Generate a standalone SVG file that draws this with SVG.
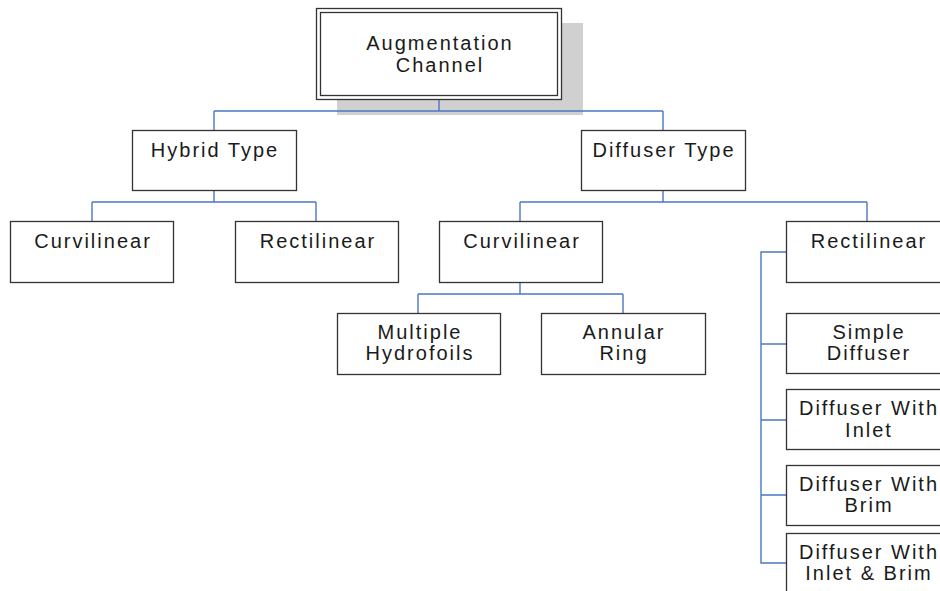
<svg xmlns="http://www.w3.org/2000/svg" width="940" height="591" viewBox="0 0 940 591">
<style>
.box{fill:#fff;stroke:#333;stroke-width:1.3}
.c{fill:none;stroke:#4a78c4;stroke-width:1.4}
text{font-family:"Liberation Sans",Arial,sans-serif;font-size:20px;fill:#1a1a1a;text-anchor:middle;letter-spacing:2px}
</style>
<rect width="940" height="591" fill="#fff"/>
<g id="root">
<rect x="337" y="23" width="246" height="92" fill="#d0d0d0"/>
<rect class="box" x="316.5" y="8.5" width="245" height="91"/>
<rect class="box" x="320.5" y="12.5" width="237" height="83"/>
<text x="440" y="50">Augmentation</text>
<text x="440" y="72">Channel</text>
</g>
<g id="connectors">
<path class="c" d="M439 100V111M214 111H663M214 111V130M663 111V130"/>
<path class="c" d="M214 191V202M92 202H316M92 202V221M316 202V221"/>
<path class="c" d="M663 191V202M520 202H867M520 202V221M867 202V221"/>
<path class="c" d="M520 283V294M418 294H623M418 294V313M623 294V313"/>
<path class="c" d="M786 252H761V563H786M761 344H786M761 420H786M761 495H786"/>
</g>
<g id="hybrid"><rect class="box" x="132.5" y="130.5" width="164" height="60"/><text x="215" y="157">Hybrid Type</text></g>
<g id="diffuser"><rect class="box" x="581.5" y="130.5" width="164" height="60"/><text x="664" y="157">Diffuser Type</text></g>
<g id="h-curv"><rect class="box" x="10.5" y="221.5" width="163" height="61"/><text x="93" y="248">Curvilinear</text></g>
<g id="h-rect"><rect class="box" x="235.5" y="221.5" width="163" height="61"/><text x="318" y="248">Rectilinear</text></g>
<g id="d-curv"><rect class="box" x="439.5" y="221.5" width="163" height="61"/><text x="522" y="248">Curvilinear</text></g>
<g id="d-rect"><rect class="box" x="786.5" y="221.5" width="164" height="61"/><text x="869" y="248">Rectilinear</text></g>
<g id="multi"><rect class="box" x="337.5" y="313.5" width="163" height="61"/><text x="420" y="339">Multiple</text><text x="420" y="360">Hydrofoils</text></g>
<g id="annular"><rect class="box" x="541.5" y="313.5" width="164" height="61"/><text x="624" y="339">Annular</text><text x="624" y="360">Ring</text></g>
<g id="simple"><rect class="box" x="786.5" y="313.5" width="164" height="60"/><text x="869" y="339">Simple</text><text x="869" y="360">Diffuser</text></g>
<g id="inlet"><rect class="box" x="786.5" y="389.5" width="164" height="60"/><text x="869" y="415">Diffuser With</text><text x="869" y="437">Inlet</text></g>
<g id="brim"><rect class="box" x="786.5" y="465.5" width="164" height="60"/><text x="869" y="491">Diffuser With</text><text x="869" y="512">Brim</text></g>
<g id="inletbrim"><rect class="box" x="786.5" y="533.5" width="164" height="70"/><text x="869" y="559">Diffuser With</text><text x="869" y="580">Inlet &amp; Brim</text></g>
</svg>
